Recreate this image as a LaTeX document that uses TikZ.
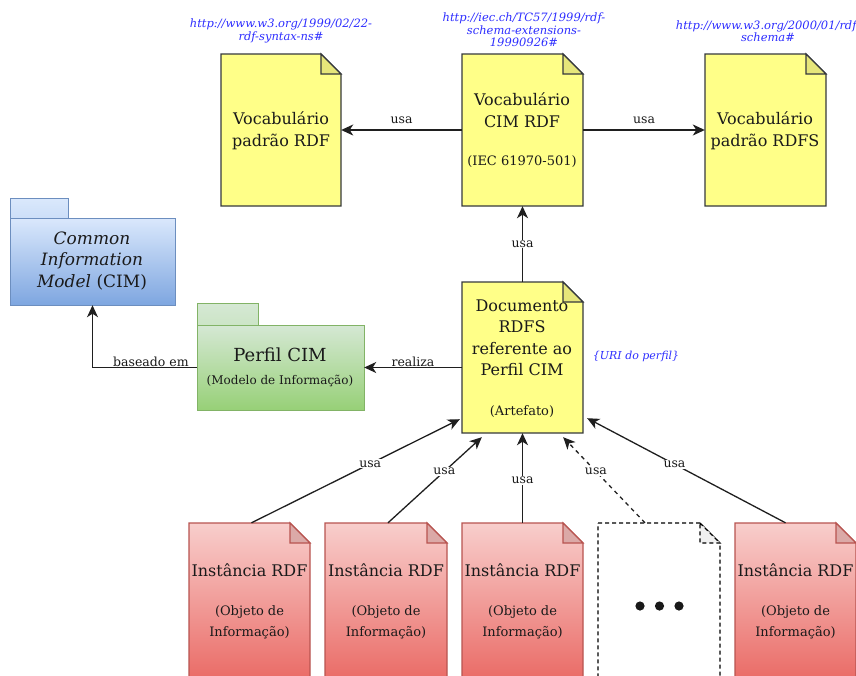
\documentclass[tikz,border=0pt]{standalone}
\usepackage{fontspec}
\setmainfont{DejaVu Serif}
\usetikzlibrary{arrows.meta,fit}
\definecolor{docyellow}{HTML}{FFFF88}
\definecolor{foldyellow}{HTML}{E6E67A}
\definecolor{edgegray}{HTML}{36393D}
\definecolor{redtop}{HTML}{F8CECC}
\definecolor{redbot}{HTML}{EA6B66}
\definecolor{rededge}{HTML}{B85450}
\definecolor{redfold}{HTML}{DBA9A7}
\definecolor{bluetop}{HTML}{DAE8FC}
\definecolor{bluebot}{HTML}{7EA6E0}
\definecolor{blueedge}{HTML}{6C8EBF}
\definecolor{greentop}{HTML}{D5E8D4}
\definecolor{greenbot}{HTML}{97D077}
\definecolor{greenedge}{HTML}{82B366}
\definecolor{urlblue}{HTML}{2E2EFF}
\definecolor{txt}{HTML}{1A1A1A}
\newcommand\docshape[7]{%
  \node[fit={(#2,#3) (#4,#5)},inner sep=0pt] (#1) {};
  \path[#6] (#2,#3) -- ({#4-20},#3) -- (#4,{#3+20}) -- (#4,#5) -- (#2,#5) -- cycle;
  \path[#7] ({#4-20},#3) -- (#4,{#3+20}) -- ({#4-20},{#3+20}) -- cycle;
}
\tikzset{
  yellowdoc/.style={fill=docyellow,draw=edgegray,line width=1.2pt},
  yellowfold/.style={fill=foldyellow,draw=edgegray,line width=1.2pt},
  reddoc/.style={top color=redtop,bottom color=redbot,draw=rededge,line width=1.2pt},
  redfoldst/.style={fill=redfold,draw=rededge,line width=1.2pt},
  dashdoc/.style={fill=white,draw=black,line width=1.2pt,dash pattern=on 4pt off 3pt},
  dashfold/.style={fill=black!6,draw=black,line width=1.2pt,dash pattern=on 4pt off 3pt},
  big/.style={font=\fontsize{16}{22}\selectfont,align=center,text=txt},
  small/.style={font=\fontsize{13}{21}\selectfont,align=center,text=txt},
  url/.style={font=\fontsize{11.5}{12.5}\selectfont\itshape,align=center,text=urlblue},
  arr/.style={draw=black!88,line width=1.3pt,-{Stealth[length=12pt,width=11pt,inset=3.5pt]}},
  darr/.style={arr,dash pattern=on 4pt off 4pt},
  lbl/.style={fill=white,inner sep=1pt,font=\fontsize{12.5}{14}\selectfont,text=txt},
  lbltop/.style={inner sep=1pt,font=\fontsize{12.5}{14}\selectfont,text=txt},
}
\begin{document}
\begin{tikzpicture}[x=1pt,y=-1pt]
\clip (0,0) rectangle (856,675);
\fill[white] (0,0) rectangle (856,675);

% URLs
\node[url] (u1) at (281,31) {http://www.w3.org/1999/02/22-\\rdf-syntax-ns\#};
\node[url] (u2) at (524,30) {http://iec.ch/TC57/1999/rdf-\\schema-extensions-\\19990926\#};
\node[url] (u3) at (768,31) {http://www.w3.org/2000/01/rdf-\\schema\#};

% top documents
\docshape{rdf}{221}{54}{341}{206}{yellowdoc}{yellowfold}
\node[big] (rdft) at (281,131) {Vocabulário\\padrão RDF};
\docshape{cimrdf}{462}{54}{583}{206}{yellowdoc}{yellowfold}
\node[big] (cimrdft) at (522,110) {Vocabulário\\CIM RDF};
\node[small] (cimrdfs) at (522,162) {(IEC 61970-501)};
\docshape{rdfs}{705}{54}{826}{206}{yellowdoc}{yellowfold}
\node[big] (rdfst) at (765,131) {Vocabulário\\padrão RDFS};

% CIM package
\shade[top color=bluetop,bottom color=bluetop!85!bluebot,draw=blueedge,line width=1pt] (10,198) rectangle (68,218);
\node[fit={(10,218) (175,305)},inner sep=0pt] (cim) {};
\shade[top color=bluetop,bottom color=bluebot,draw=blueedge,line width=1pt] (10,218) rectangle (175,305);
\node[font=\fontsize{17}{21.5}\selectfont,align=center,text=txt] (cimt) at (92,261) {\textit{Common}\\\textit{Information}\\\textit{Model} (CIM)};

% Perfil package
\shade[top color=greentop,bottom color=greentop!85!greenbot,draw=greenedge,line width=1pt] (197,303) rectangle (258,325);
\node[fit={(197,325) (364,410)},inner sep=0pt] (perfil) {};
\shade[top color=greentop,bottom color=greenbot,draw=greenedge,line width=1pt] (197,325) rectangle (364,410);
\node[font=\fontsize{18}{22}\selectfont,text=txt] (perfilt) at (280,355) {Perfil CIM};
\node[font=\fontsize{12}{14}\selectfont,text=txt] (perfils) at (280,381) {(Modelo de Informação)};

% RDFS profile document
\docshape{doc}{462}{282}{583}{433}{yellowdoc}{yellowfold}
\node[font=\fontsize{16}{21.5}\selectfont,align=center,text=txt] (doct) at (522,338) {Documento\\RDFS\\referente ao\\Perfil CIM};
\node[small] (docs) at (522,412) {(Artefato)};
\node[font=\fontsize{11}{12}\selectfont\itshape,text=urlblue] (uri) at (636,356) {\{URI do perfil\}};

% bottom documents
\docshape{i1}{189}{523}{310}{680}{reddoc}{redfoldst}
\docshape{i2}{325}{523}{447}{680}{reddoc}{redfoldst}
\docshape{i3}{462}{523}{583}{680}{reddoc}{redfoldst}
\docshape{dots}{598}{523}{720}{680}{dashdoc}{dashfold}
\docshape{i5}{735}{523}{856}{680}{reddoc}{redfoldst}
\foreach \n/\x in {i1/249.5,i2/386,i3/522.5,i5/795.5}{
  \node[big] (\n t) at (\x,570) {Instância RDF};
  \node[small] (\n s) at (\x,622) {(Objeto de\\Informação)};
}
\foreach \x in {640,659.5,679}{\fill[black!90] (\x,606) circle (4.6);}

% connectors
\draw[arr] (cimrdf) -- (rdf) node[lbltop,midway,above=5pt] {usa};
\draw[arr] (cimrdf) -- (rdfs) node[lbltop,midway,above=5pt] {usa};
\draw[arr] (doc) -- (cimrdf) node[lbl,midway] {usa};
\draw[arr] (perfil.east -| doc.west) -- (perfil.east) node[lbl,midway,yshift=6pt] {realiza};
\draw[arr] (perfil.west) -| (cim.south) node[lbl,pos=0.22,yshift=6pt] {baseado em};
\draw[arr] ([xshift=2pt]i1.north) -- ([shift={(-2pt,14pt)}]doc.south west) node[lbl,pos=0.57] {usa};
\draw[arr] ([xshift=2pt]i2.north) -- ([shift={(20pt,-4pt)}]doc.south west) node[lbl,pos=0.6] {usa};
\draw[arr] (i3) -- (doc) node[lbl,pos=0.47] {usa};
\draw[darr] ([xshift=-14pt]dots.north) -- ([shift={(-20pt,-4pt)}]doc.south east) node[lbl,pos=0.6] {usa};
\draw[arr] ([xshift=-10pt]i5.north) -- ([shift={(4pt,15pt)}]doc.south east) node[lbl,pos=0.56] {usa};
\end{tikzpicture}
\end{document}
